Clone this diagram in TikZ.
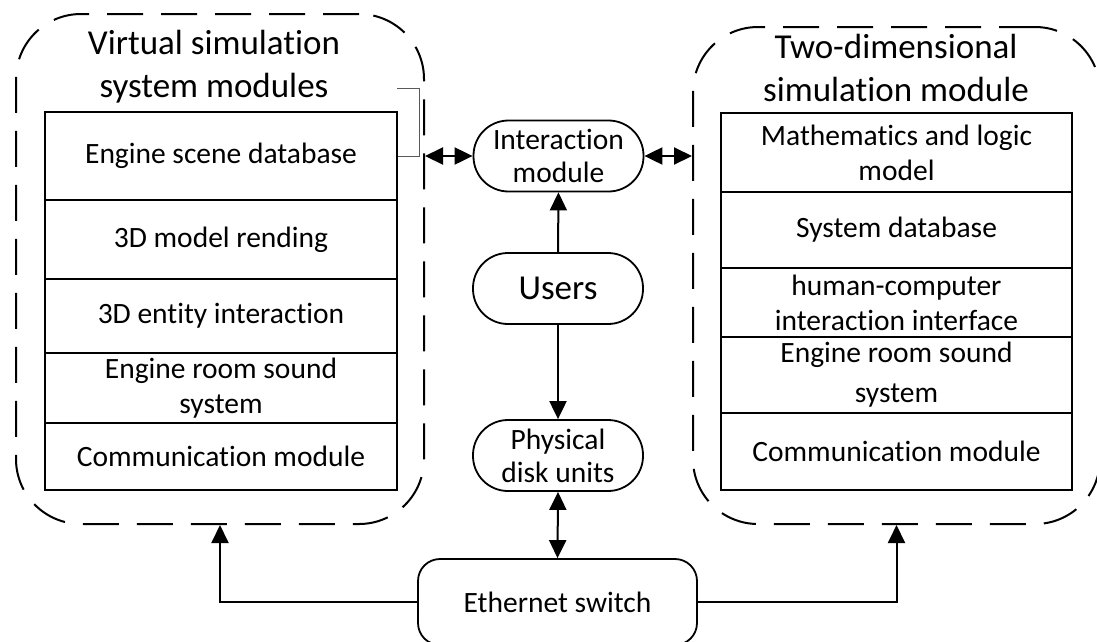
\documentclass[tikz,border=0pt]{standalone}
\usepackage{fontspec}
\setmainfont{Carlito}[Ligatures=NoCommon]
\usetikzlibrary{arrows.meta}
\begin{document}
\begin{tikzpicture}[x=1pt,y=-1pt,
  row/.style={draw,line width=2pt,minimum width=352pt,inner sep=0pt,align=center,font=\fontsize{29.5}{35}\selectfont},
  pill/.style={draw,line width=1.8pt,rounded corners=35pt,minimum width=170pt,minimum height=71pt,inner sep=0pt,align=center,font=\fontsize{29.5}{33}\selectfont},
  cont/.style={draw,line width=2pt,dash pattern=on 36pt off 18pt,rounded corners=65pt,inner sep=0pt},
  arr/.style={line width=2pt,-{Triangle[length=18pt,width=17pt]}},
  darr/.style={line width=2pt,{Triangle[length=18pt,width=17pt]}-{Triangle[length=18pt,width=17pt]}},
  title/.style={align=center,font=\fontsize{35}{43}\selectfont,inner sep=0pt}
]
\useasboundingbox (0,0) rectangle (1097,641);

% containers
\node[cont,minimum width=408pt,minimum height=510pt] (contL) at (220,269) {};
\node[cont,minimum width=407pt,minimum height=497pt] (contR) at (896.5,275.5) {};

% titles
\node[title] (titleL) at (214,66.5) {Virtual simulation\\system modules};
\node[title] (titleR) at (896,68) {Two-dimensional\\simulation module};

% left rows
\node[row,minimum height=88pt] (L1) at (221,156) {Engine scene database};
\node[row,minimum height=79pt] (L2) at (221,239.5) {3D model rending};
\node[row,minimum height=74pt] (L3) at (221,316) {3D entity interaction};
\node[row,minimum height=70pt] (L4) at (221,388) {Engine room sound\\system};
\node[row,minimum height=67pt] (L5) at (221,456.5) {Communication module};

% right rows
\node[row,minimum width=351pt,minimum height=79pt] (R1) at (896.5,152.5) {Mathematics and logic\\model};
\node[row,minimum width=351pt,minimum height=76pt] (R2) at (896.5,230) {System database};
\node[row,minimum width=351pt,minimum height=69pt] (R3) at (896.5,302.5) {human-computer\\interaction interface};
\node[row,minimum width=351pt,minimum height=76pt,font=\fontsize{29.5}{40}\selectfont] (R4) at (896.5,375) {Engine room sound\\system};
\node[row,minimum width=351pt,minimum height=77pt] (R5) at (896.5,451.5) {Communication module};

% central nodes
\node[pill] (inter) at (558.5,156) {Interaction\\module};
\node[pill,font=\fontsize{35}{40}\selectfont] (users) at (558,288.5) {Users};
\node[pill] (disk) at (558,455.5) {Physical\\disk units};
\node[pill,rounded corners=22pt,minimum width=279pt,minimum height=86pt] (eth) at (557.5,602) {Ethernet switch};

% bracket
\coordinate (b1) at (397,88);
\coordinate (b2) at (419,88);
\draw[line width=1pt,black!65] (b1) -- (b2) |- (L1.east);

% connectors
\draw[darr] (contL.east |- inter.west) -- (inter.west);
\draw[darr] (inter.east) -- (inter.east -| contR.west);
\draw[arr] (users.north) -- (inter.south);
\draw[arr] (users.south) -- (disk.north);
\draw[darr] (disk.south) -- (eth.north);
\draw[arr] (eth.west) -| (contL.south);
\draw[arr] (eth.east) -| (contR.south);
\end{tikzpicture}
\end{document}
